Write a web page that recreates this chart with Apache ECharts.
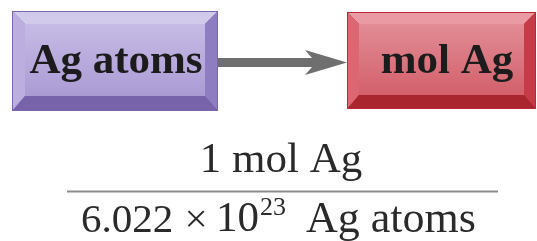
<!DOCTYPE html>
<html>
<head>
<meta charset="utf-8">
<script src="https://cdn.jsdelivr.net/npm/echarts@6/dist/echarts.min.js"></script>
<style>
html,body{margin:0;padding:0;background:#fff;}
#c{width:537px;height:241px;}
</style>
</head>
<body>
<div id="c"></div>
<script>
// Content
var boxLabels = ['Ag atoms', 'mol Ag'];
var numeratorText = '1 mol Ag';
var denominatorParts = ['6.022', '\u00d7', '10', '23', 'Ag atoms'];

var FONT = '"Liberation Serif", "DejaVu Serif", serif';

function bevelBox(x0, y0, x1, y1, bw, bb, c) {
  var ix0 = x0 + bw, iy0 = y0 + bw, ix1 = x1 - bw, iy1 = y1 - bb;
  return [
    {type: 'rect', shape: {x: x0, y: y0, width: x1 - x0, height: y1 - y0}, style: {fill: c.border}},
    {type: 'polygon', shape: {points: [[x0+1, y0+1], [x1-1, y0+1], [ix1, iy0], [ix0, iy0]]}, style: {fill: c.top}},
    {type: 'polygon', shape: {points: [[x0+1, y0+1], [ix0, iy0], [ix0, iy1], [x0+1, y1-1]]}, style: {fill: c.left}},
    {type: 'polygon', shape: {points: [[x1-1, y0+1], [x1-1, y1-1], [ix1, iy1], [ix1, iy0]]}, style: {fill: c.right}},
    {type: 'polygon', shape: {points: [[x0+1, y1-1], [ix0, iy1], [ix1, iy1], [x1-1, y1-1]]}, style: {fill: c.bottom}},
    {type: 'rect', shape: {x: ix0, y: iy0, width: ix1 - ix0, height: iy1 - iy0},
      style: {fill: new echarts.graphic.LinearGradient(0, 0, 0, 1, [
        {offset: 0, color: c.in0}, {offset: 1, color: c.in1}])}}
  ];
}

var purple = {border: '#7a66ab', top: '#d2caeb', left: '#bcafe0', right: '#8f7dc1', bottom: '#7763aa', in0: '#c6bbe5', in1: '#ab9bd4'};
var red = {border: '#b92834', top: '#ea9aa2', left: '#dc6672', right: '#c53c48', bottom: '#a9262f', in0: '#e28c95', in1: '#d2606b'};

var elements = [];
elements = elements.concat(bevelBox(12, 11, 218, 111, 13, 15, purple));
elements = elements.concat(bevelBox(347, 12, 536, 109, 12, 14, red));

// arrow
elements.push({type: 'polygon', shape: {points: [[218, 58], [312, 58], [305, 50], [347, 62.5], [305, 75], [312, 67], [218, 67]]},
  style: {fill: '#6f6f6f'}});

// box labels
elements.push({type: 'text', x: 116, y: 62, style: {text: boxLabels[0], font: 'bold 43px ' + FONT, fill: '#1c1c1c', align: 'center', verticalAlign: 'middle'}});
elements.push({type: 'text', x: 447, y: 62, style: {text: boxLabels[1], font: 'bold 43px ' + FONT, fill: '#1c1c1c', align: 'center', verticalAlign: 'middle'}});

// fraction
elements.push({type: 'text', x: 281, y: 161, style: {text: numeratorText, font: '43px ' + FONT, fill: '#2a2a2a', align: 'center', verticalAlign: 'middle'}});
elements.push({type: 'rect', shape: {x: 67, y: 190.5, width: 431, height: 2}, style: {fill: '#8c8c8c'}});

var dx = [81, 196, 216, 260, 306];
var dAlign = ['left', 'center', 'left', 'left', 'left'];
var dSize = [41, 41, 43, 26, 44];
var dY = [221, 221, 220, 208, 220];
for (var i = 0; i < denominatorParts.length; i++) {
  elements.push({type: 'text', x: dx[i], y: dY[i],
    style: {text: denominatorParts[i], font: dSize[i] + 'px ' + FONT, fill: '#2a2a2a', align: dAlign[i], verticalAlign: 'middle'}});
}

var chart = echarts.init(document.getElementById('c'), null, {renderer: 'canvas'});
chart.setOption({
  backgroundColor: '#ffffff',
  animation: false,
  graphic: {elements: elements}
});
</script>
</body>
</html>
